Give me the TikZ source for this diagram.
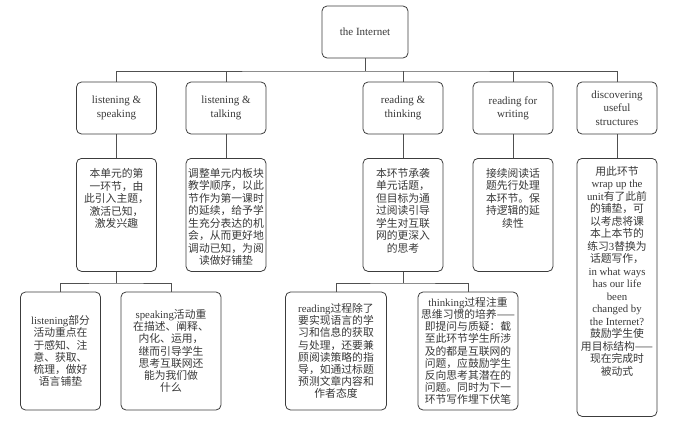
\documentclass[tikz,border=0pt]{standalone}
\usepackage{fontspec}
\setmainfont{Liberation Serif}
\newfontfamily\cjk{Noto Sans CJK SC}
\newcommand\en[1]{{\rmfamily #1}}
\definecolor{boxc}{HTML}{3C3C3C}
\definecolor{linec}{HTML}{505050}
\definecolor{txtc}{HTML}{383838}
\tikzset{
  box/.style={draw=boxc, line width=0.8pt, rounded corners=5pt, inner sep=0pt, text=txtc},
  headbox/.style={box, minimum width=80pt, minimum height=52pt, align=center,
    font=\fontsize{11}{13.3}\selectfont},
  link/.style={draw=linec, line width=0.8pt},
}
\newcommand\topbox[4]{\parbox[c][#2][t]{#1}{\centering\cjk\fontsize{10.8}{12.5}\selectfont\vspace*{#3}#4\par}}
\newcommand\midbox[3]{\parbox[c][#2][c]{#1}{\centering\cjk\fontsize{10.8}{12.2}\selectfont #3\par}}
\begin{document}
\begin{tikzpicture}[x=1pt,y=-1pt]
\useasboundingbox (0,0) rectangle (680,423);
% root
\node[box, minimum width=86pt, minimum height=52pt, font=\fontsize{11}{13}\selectfont] (root) at (365,32) {the Internet};
% level 2
\node[headbox] (la) at (116.5,108) {listening \&\\speaking};
\node[headbox] (lb) at (226,108) {listening \&\\talking};
\node[headbox] (lc) at (403,108) {reading \&\\thinking};
\node[headbox] (ld) at (513,108) {reading for\\writing};
\node[headbox] (le) at (617,108) {discovering\\useful\\structures};
% level 3
\node[box, anchor=north] (ma) at (116.5,158) {\topbox{80pt}{113pt}{10pt}{本单元的第\\一环节，由\\此引入主题，\\激活已知，\\激发兴趣}};
\node[box, anchor=north] (mb) at (226,158) {\topbox{80pt}{113pt}{10pt}{调整单元内板块\\教学顺序，以此\\节作为第一课时\\的延续，给予学\\生充分表达的机\\会，从而更好地\\调动已知，为阅\\读做好铺垫}};
\node[box, anchor=north] (mc) at (403,158) {\topbox{80pt}{113pt}{10pt}{本环节承袭\\单元话题，\\但目标为通\\过阅读引导\\学生对互联\\网的更深入\\的思考}};
\node[box, anchor=north] (md) at (513,158) {\topbox{80pt}{113pt}{10pt}{接续阅读话\\题先行处理\\本环节。保\\持逻辑的延\\续性}};
\node[box, anchor=north] (me) at (617,158) {\topbox{80pt}{258pt}{8pt}{用此环节\\\en{wrap up the}\\\en{unit}有了此前\\的铺垫，可\\以考虑将课\\本上本节的\\练习\en{3}替换为\\话题写作，\\\en{in what ways}\\\en{has our life}\\\en{been}\\\en{changed by}\\\en{the Internet?}\\鼓励学生使\\用目标结构——\\现在完成时\\被动式}};
% level 4
\node[box] (na) at (60.5,351) {\midbox{80pt}{118pt}{\en{listening}部分\\活动重点在\\于感知、注\\意、获取、\\梳理，做好\\语言铺垫}};
\node[box] (nb) at (171,351) {\midbox{100pt}{118pt}{\en{speaking}活动重\\在描述、阐释、\\内化、运用，\\继而引导学生\\思考互联网还\\能为我们做\\什么}};
\node[box] (nc) at (336,351) {\midbox{101pt}{118pt}{\en{reading}过程除了\\要实现语言的学\\习和信息的获取\\与处理，还要兼\\顾阅读策略的指\\导，如通过标题\\预测文章内容和\\作者态度}};
\node[box] (nd) at (468,351) {\midbox{100pt}{118pt}{\en{thinking}过程注重\\思维习惯的培养——\\即提问与质疑：截\\至此环节学生所涉\\及的都是互联网的\\问题，应鼓励学生\\反向思考其潜在的\\问题。同时为下一\\环节写作埋下伏笔}};
% connectors
\coordinate (bus) at (365,71);
\coordinate (busa) at (116.5,283);
\coordinate (busc) at (403,283);
\draw[link] (root.south) -- (bus);
\draw[link] (la.north) |- (bus) -| (le.north);
\draw[link] (lb.north) -- (lb.north |- bus);
\draw[link] (lc.north) -- (lc.north |- bus);
\draw[link] (ld.north) -- (ld.north |- bus);
\draw[link] (la.south) -- (ma.north);
\draw[link] (lb.south) -- (mb.north);
\draw[link] (lc.south) -- (mc.north);
\draw[link] (ld.south) -- (md.north);
\draw[link] (le.south) -- (me.north);
\draw[link] (ma.south) -- (busa);
\draw[link] (na.north) |- (busa) -| (nb.north);
\draw[link] (mc.south) -- (busc);
\draw[link] (nc.north) |- (busc) -| (nd.north);
\end{tikzpicture}
\end{document}
